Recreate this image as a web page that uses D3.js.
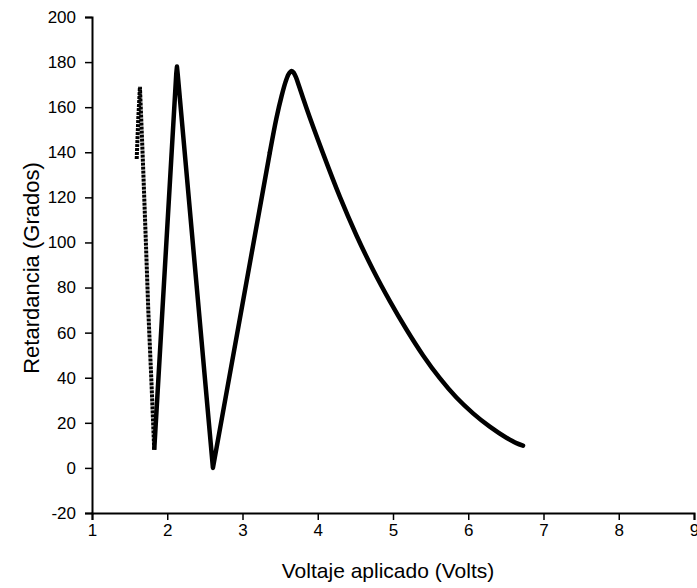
<!DOCTYPE html>
<html>
<head>
<meta charset="utf-8">
<script src="https://cdn.jsdelivr.net/npm/d3@7"></script>
<style>
  body { margin: 0; background: #fff; }
  text { font-family: Arial, "Liberation Sans", sans-serif; fill: #000; }
</style>
</head>
<body>
<svg id="main" width="697" height="588"></svg>
<script>
// dotted start: rising then falling steeply (sparse markers)
const voltajeInicio = [1.594, 1.615, 1.637, 1.66, 1.681, 1.715, 1.748, 1.79, 1.827];
const retardInicio  = [137, 155, 169, 150, 132, 101, 70, 38, 8];

// solid part of the curve
const voltaje = [1.827, 2.12, 2.129, 2.138, 2.607, 3.364, 3.45, 3.52, 3.57, 3.61, 3.64, 3.655,
  3.68, 3.71, 3.75, 3.80, 3.851, 4.07, 4.293, 4.515, 4.736, 4.958, 5.179, 5.400, 5.622, 5.843,
  6.064, 6.286, 6.507, 6.640, 6.728];
const retard = [8, 175, 178, 175, 0, 140, 155, 165, 171, 174.5, 175.8, 176,
  175.3, 173.3, 169.5, 164.5, 159.5, 139.5, 120.3, 103.1, 87.8, 74.0, 61.4, 49.9, 39.8, 31.2,
  24.2, 18.3, 13.4, 11.0, 9.9];

const xTicks = [1, 2, 3, 4, 5, 6, 7, 8, 9];
const yTicks = [-20, 0, 20, 40, 60, 80, 100, 120, 140, 160, 180, 200];

const m = { left: 92, top: 17, right: 694, bottom: 513 };

let svg = d3.select('#main');

let x = d3.scaleLinear().domain([1, 9]).range([m.left, m.right]);
let y = d3.scaleLinear().domain([-20, 200]).range([m.bottom, m.top]);

// minor ticks
let xMinor = d3.range(1.5, 9, 1);
let yMinor = d3.range(-10, 200, 20);

let gx = svg.append('g').attr('transform', `translate(0,${m.bottom})`);
gx.call(d3.axisBottom(x).tickValues(xMinor).tickSize(4).tickFormat(''));
gx.call(d3.axisBottom(x).tickValues(xTicks).tickSize(7).tickPadding(4).tickFormat(d => String(d)));

let gy = svg.append('g').attr('transform', `translate(${m.left},0)`);
gy.call(d3.axisLeft(y).tickValues(yMinor).tickSize(4).tickFormat(''));
gy.call(d3.axisLeft(y).tickValues(yTicks).tickSize(7).tickPadding(9).tickFormat(d => String(d)));

svg.selectAll('.domain').attr('stroke', '#000').attr('stroke-width', 2);
svg.selectAll('.tick line').attr('stroke', '#000').attr('stroke-width', 1.5);
svg.selectAll('.tick text').style('font-size', '17px').style('font-family', 'Arial, "Liberation Sans", sans-serif');

// axis titles
svg.append('text')
  .attr('x', (m.left + m.right) / 2 - 5)
  .attr('y', 578)
  .attr('text-anchor', 'middle')
  .style('font-size', '21px')
  .text('Voltaje aplicado (Volts)');

svg.append('text')
  .attr('transform', `translate(39,${(m.top + m.bottom) / 2 + 3}) rotate(-90)`)
  .attr('text-anchor', 'middle')
  .style('font-size', '22px')
  .text('Retardancia (Grados)');

let pts = d3.zip(voltaje, retard);
let split = voltaje.indexOf(3.364);

let lineLinear = d3.line()
  .x(d => x(d[0]))
  .y(d => y(d[1]));

let lineSmooth = d3.line()
  .x(d => x(d[0]))
  .y(d => y(d[1]))
  .curve(d3.curveMonotoneX);

svg.append('path')
  .datum(d3.zip(voltajeInicio, retardInicio))
  .attr('d', lineLinear)
  .attr('fill', 'none')
  .attr('stroke', '#000')
  .attr('stroke-width', 4)
  .attr('stroke-dasharray', '3,1');

svg.append('path')
  .datum(pts.slice(0, split + 1))
  .attr('d', lineLinear)
  .attr('fill', 'none')
  .attr('stroke', '#000')
  .attr('stroke-width', 4.5)
  .attr('stroke-linejoin', 'round');

svg.append('path')
  .datum(pts.slice(split))
  .attr('d', lineSmooth)
  .attr('fill', 'none')
  .attr('stroke', '#000')
  .attr('stroke-width', 4.5)
  .attr('stroke-linejoin', 'round')
  .attr('stroke-linecap', 'round');
</script>
</body>
</html>
